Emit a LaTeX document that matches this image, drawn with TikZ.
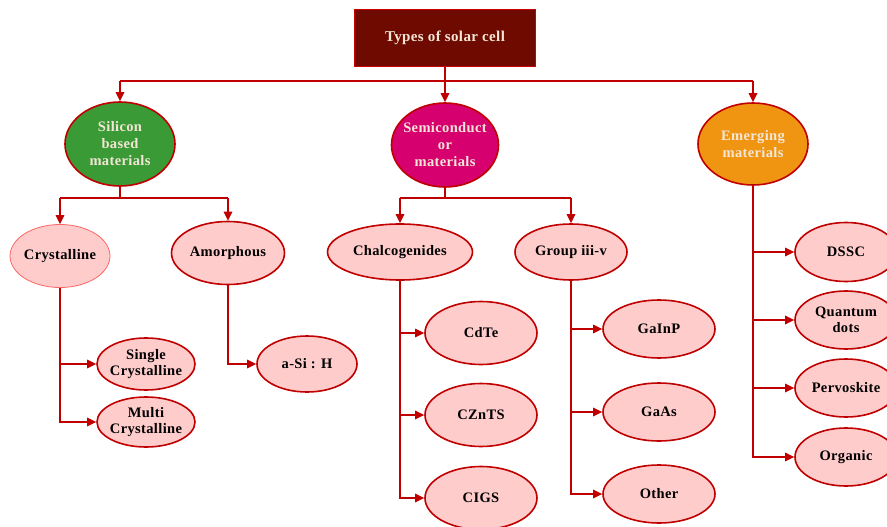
\documentclass[tikz,border=0pt]{standalone}
\usepackage{fontspec}
\setmainfont{Liberation Serif}[LetterSpace=2.5]
\usetikzlibrary{shapes.geometric,arrows.meta}
\definecolor{wire}{HTML}{C00000}
\definecolor{rimred}{HTML}{C00000}
\definecolor{softfill}{HTML}{FFCCCC}
\definecolor{boxfill}{HTML}{6E0A00}
\definecolor{leafgreen}{HTML}{3A9A35}
\definecolor{magentafill}{HTML}{D6006E}
\definecolor{amberfill}{HTML}{EF9512}
\definecolor{paletext}{HTML}{F3E6D6}
\tikzset{
  conn/.style={draw=wire, line width=1.6pt},
  arr/.style={conn, -{Triangle[length=9pt,width=8.5pt]}},
  oval/.style={ellipse, draw=rimred, line width=1.6pt, fill=softfill, inner sep=0pt,
    inner xsep=-12pt, align=center, font=\bfseries\fontsize{14.5}{16.5}\selectfont, text=black},
  bigoval/.style={oval, font=\bfseries\fontsize{14.5}{17}\selectfont, text=paletext,
    minimum width=110pt, minimum height=84pt},
}
\begin{document}
\begin{tikzpicture}[x=1pt,y=-1pt]
\useasboundingbox (0,0) rectangle (887,527);
% root
\node[draw=red!80!black, line width=0.8pt, fill=boxfill, minimum width=181pt, minimum height=57pt,
  font=\bfseries\fontsize{15}{18}\selectfont, text=paletext] (root) at (445,38) {Types of solar cell};
% main categories
\node[bigoval, fill=leafgreen] (sil) at (120,144) {Silicon\\based\\materials};
\node[bigoval, fill=magentafill, minimum width=107pt] (sem) at (445,145) {Semiconduct\\or\\materials};
\node[bigoval, fill=amberfill, minimum height=82pt] (emg) at (753,144) {Emerging\\materials};
% second level
\node[oval, draw=red!60, line width=0.8pt, minimum width=100pt, minimum height=63pt] (crys) at (60,256) {Crystalline};
\node[oval, minimum width=113pt, minimum height=63pt] (amor) at (228,253) {Amorphous};
\node[oval, minimum width=145pt, minimum height=56pt] (chal) at (400,252) {Chalcogenides};
\node[oval, minimum width=112pt, minimum height=56pt] (grp) at (571,252) {Group iii-v};
% silicon leaves
\node[oval, minimum width=98pt, minimum height=52pt] (single) at (146,364) {Single\\Crystalline};
\node[oval, minimum width=98pt, minimum height=50pt] (multi) at (146,422) {Multi\\Crystalline};
\node[oval, minimum width=100pt, minimum height=56pt] (asi) at (307,364) {a-Si : H};
% chalcogenide leaves
\node[oval, minimum width=112pt, minimum height=63pt] (cdte) at (481,333) {CdTe};
\node[oval, minimum width=112pt, minimum height=63pt] (czts) at (481,415) {CZnTS};
\node[oval, minimum width=112pt, minimum height=63pt] (cigs) at (481,498) {CIGS};
% group iii-v leaves
\node[oval, minimum width=112pt, minimum height=58pt] (gainp) at (659,329) {GaInP};
\node[oval, minimum width=112pt, minimum height=58pt] (gaas) at (659,412) {GaAs};
\node[oval, minimum width=112pt, minimum height=58pt] (other) at (659,494) {Other};
% emerging leaves
\node[oval, minimum width=102pt, minimum height=59pt] (dssc) at (846,252) {DSSC};
\node[oval, minimum width=102pt, minimum height=58pt] (qd) at (846,320) {Quantum\\dots};
\node[oval, minimum width=102pt, minimum height=58pt] (perv) at (846,388) {Pervoskite};
\node[oval, minimum width=102pt, minimum height=58pt] (org) at (846,457) {Organic};
% bus coordinates
\coordinate (topbus) at (0,81);
\coordinate (silbus) at (0,198);
\coordinate (sembus) at (0,198);
% root to categories
\draw[arr] (root.south) -- (sem.north);
\draw[conn] (sil.north |- topbus) -- (emg.north |- topbus);
\draw[arr] (sil.north |- topbus) -- (sil.north);
\draw[arr] (emg.north |- topbus) -- (emg.north);
% silicon branch
\draw[conn] (sil.south) -- (sil.south |- silbus);
\draw[conn] (crys.north |- silbus) -- (amor.north |- silbus);
\draw[arr] (crys.north |- silbus) -- (crys.north);
\draw[arr] (amor.north |- silbus) -- (amor.north);
\draw[arr] (crys.south) |- (single.west);
\draw[arr] (crys.south) |- (multi.west);
\draw[arr] (amor.south) |- (asi.west);
% semiconductor branch
\draw[conn] (sem.south) -- (sem.south |- sembus);
\draw[conn] (chal.north |- sembus) -- (grp.north |- sembus);
\draw[arr] (chal.north |- sembus) -- (chal.north);
\draw[arr] (grp.north |- sembus) -- (grp.north);
\draw[arr] (chal.south) |- (cdte.west);
\draw[arr] (chal.south) |- (czts.west);
\draw[arr] (chal.south) |- (cigs.west);
\draw[arr] (grp.south) |- (gainp.west);
\draw[arr] (grp.south) |- (gaas.west);
\draw[arr] (grp.south) |- (other.west);
% emerging branch
\draw[arr] (emg.south) |- (dssc.west);
\draw[arr] (emg.south) |- (qd.west);
\draw[arr] (emg.south) |- (perv.west);
\draw[arr] (emg.south) |- (org.west);
\end{tikzpicture}
\end{document}
